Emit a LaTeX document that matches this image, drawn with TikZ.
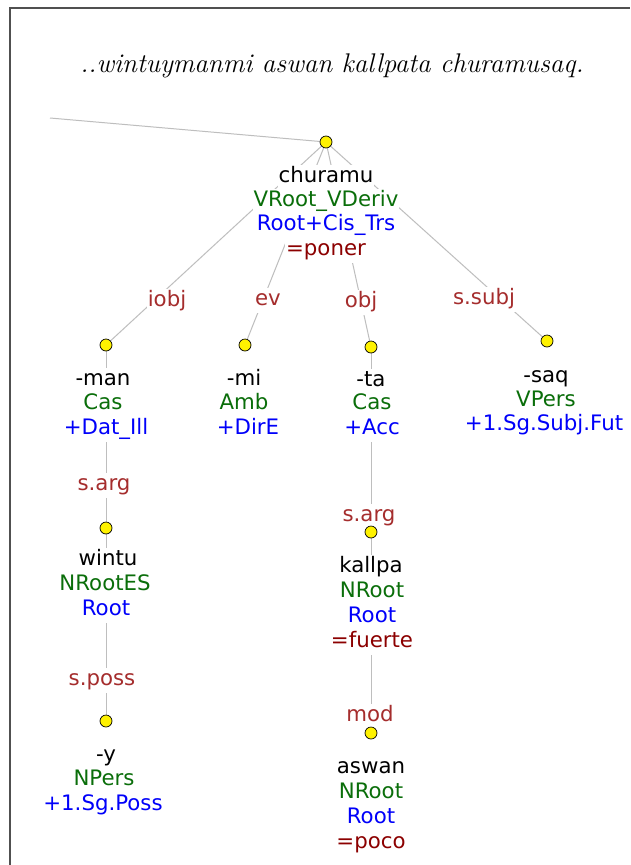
\documentclass[tikz,border=0pt]{standalone}
\usepackage{fontspec}
\newfontfamily\dv{DejaVu Sans}
\definecolor{lblc}{RGB}{165,45,45}
\definecolor{valc}{RGB}{140,0,0}
\definecolor{grn}{RGB}{10,110,10}
\definecolor{blu}{RGB}{0,0,250}
\definecolor{edgec}{RGB}{190,190,190}
\definecolor{framec}{RGB}{80,80,80}
\pgfdeclarelayer{back}
\pgfdeclarelayer{bg}
\pgfsetlayers{back,bg,main}
\begin{document}
\begin{tikzpicture}[x=1pt,y=-1pt,
  tline/.style={anchor=base,fill=white,inner xsep=1pt,inner ysep=1.5pt,text height=16pt,text depth=6pt,font=\dv\fontsize{21.3}{25}\selectfont},
  wrd/.style={tline,text=black},
  cat/.style={tline,text=grn},
  feat/.style={tline,text=blu},
  gloss/.style={tline,text=valc},
  lbl/.style={tline,text=lblc},
  dot/.style={circle,draw=black,line width=0.7pt,fill=yellow,minimum size=12pt,inner sep=0pt},
  edge/.style={draw=edgec,line width=1pt},
  frame/.style={draw=framec,line width=1.2pt},
  title/.style={font=\fontsize{27}{31}\selectfont\itshape,inner sep=0pt}]
\useasboundingbox (0,0) rectangle (630,865);
\begin{pgfonlayer}{back}
\fill[white] (0,0) rectangle (630,865);
\end{pgfonlayer}
\draw[frame] (10,865) -- (10,8) -- (630,8);
\node[title] (title) at (332,66) {..wintuymanmi aswan kallpata churamusaq.};

% edge labels
\node[lbl] (liobj) at (167,306) {iobj};
\node[lbl] (lev) at (268,305) {ev};
\node[lbl] (lobj) at (361,307) {obj};
\node[lbl] (lssubj) at (484,304) {s.subj};
\node[lbl] (lsarg1) at (104,490) {s.arg};
\node[lbl] (lsposs) at (102,685) {s.poss};
\node[lbl] (lsarg2) at (369,521) {s.arg};
\node[lbl] (lmod) at (370,721) {mod};

% root
\node[wrd] (rootw) at (326,182) {churamu};
\node[cat] (rootc) at (326,206) {VRoot\_VDeriv};
\node[feat] (rootf) at (326,230) {Root+Cis\_Trs};
\node[gloss] (rootg) at (326,255) {=poner};
% -man
\node[wrd] (manw) at (103,385) {-man};
\node[cat] (manc) at (103,409) {Cas};
\node[feat] (manf) at (106,434) {+Dat\_Ill};
% -mi
\node[wrd] (miw) at (244,385) {-mi};
\node[cat] (mic) at (244,409) {Amb};
\node[feat] (mif) at (248,434) {+DirE};
% -ta
\node[wrd] (taw) at (371,386) {-ta};
\node[cat] (tac) at (372,409) {Cas};
\node[feat] (taf) at (372,434) {+Acc};
% -saq
\node[wrd] (saqw) at (546,382) {-saq};
\node[cat] (saqc) at (546,406) {VPers};
\node[feat] (saqf) at (544,430) {+1.Sg.Subj.Fut};
% wintu
\node[wrd] (wintuw) at (108,565) {wintu};
\node[cat] (wintuc) at (105,590) {NRootES};
\node[feat] (wintuf) at (106,615) {Root};
% -y
\node[wrd] (yw) at (106,761) {-y};
\node[cat] (yc) at (104,785) {NPers};
\node[feat] (yf) at (103,810) {+1.Sg.Poss};
% kallpa
\node[wrd] (kallpaw) at (371,572) {kallpa};
\node[cat] (kallpac) at (372,597) {NRoot};
\node[feat] (kallpaf) at (372,622) {Root};
\node[gloss] (kallpag) at (372,647) {=fuerte};
% aswan
\node[wrd] (aswanw) at (371,773) {aswan};
\node[cat] (aswanc) at (371,798) {NRoot};
\node[feat] (aswanf) at (371,823) {Root};
\node[gloss] (aswang) at (371,848) {=poco};

% dots (on top of text boxes)
\node[dot] (nroot) at (326,142) {};
\node[dot] (nman) at (106,345) {};
\node[dot] (nmi) at (245,345) {};
\node[dot] (nta) at (371,347) {};
\node[dot] (nsaq) at (547,341) {};
\node[dot] (nwintu) at (106,528) {};
\node[dot] (ny) at (106,721) {};
\node[dot] (nkallpa) at (371,532) {};
\node[dot] (naswan) at (371,733) {};
\coordinate (lend) at (50,118);

% edges
\begin{pgfonlayer}{bg}
\draw[edge] (lend) -- (nroot);
\draw[edge] (nroot) -- (nman);
\draw[edge] (nroot) -- (nmi);
\draw[edge] (nroot) -- (nta);
\draw[edge] (nroot) -- (nsaq);
\draw[edge] (nman) -- (nwintu);
\draw[edge] (nwintu) -- (ny);
\draw[edge] (nta) -- (nkallpa);
\draw[edge] (nkallpa) -- (naswan);
\end{pgfonlayer}
\end{tikzpicture}
\end{document}
